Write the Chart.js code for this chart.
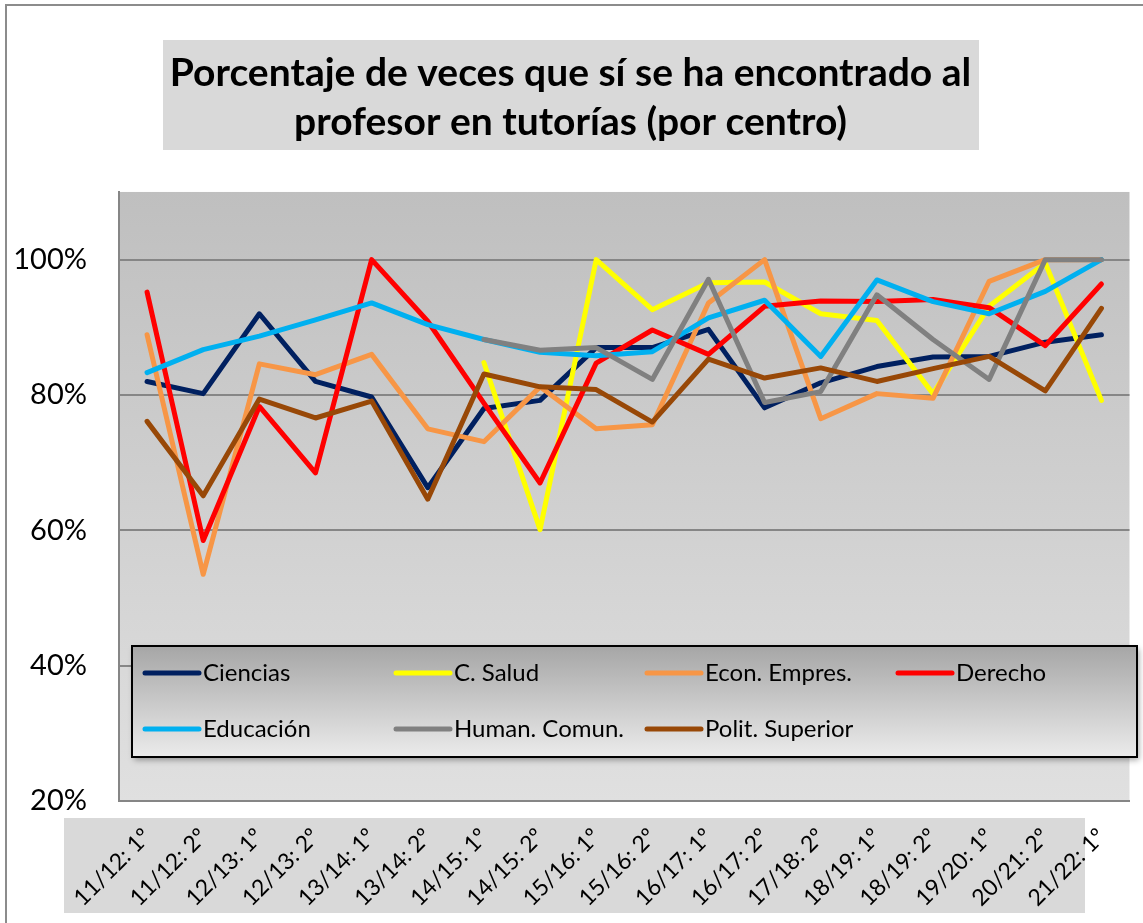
<!DOCTYPE html>
<html><head><meta charset="utf-8">
<script src="https://cdn.jsdelivr.net/npm/chart.js@4/dist/chart.umd.min.js"></script>
<style>html,body{margin:0;padding:0;background:#fff;}canvas{display:block;}</style>
</head><body>
<canvas id="c" width="1143" height="923"></canvas>
<script>
const categories = ["11/12: 1º","11/12: 2º","12/13: 1º","12/13: 2º","13/14: 1º","13/14: 2º","14/15: 1º","14/15: 2º","15/16: 1º","15/16: 2º","16/17: 1º","16/17: 2º","17/18: 2º","18/19: 1º","18/19: 2º","19/20: 1º","20/21: 2º","21/22: 1º"];
const ciencias = [82.0,80.2,92.0,82.0,79.7,66.3,78.0,79.2,87.0,87.0,89.7,78.1,81.8,84.2,85.6,85.7,87.8,88.9];
const cSalud = [null,null,null,null,null,null,84.8,60.1,100,92.6,96.6,96.7,92.0,91.0,80.2,93.1,99.5,79.2];
const econEmpres = [88.9,53.5,84.6,83.0,86.0,75.0,73.1,81.2,75.0,75.6,93.6,100,76.5,80.2,79.5,96.8,100,100];
const derecho = [95.2,58.5,78.3,68.5,100,90.9,78.8,67.0,84.7,89.6,86.0,93.1,93.9,93.8,94.1,92.9,87.3,96.4];
const educacion = [83.3,86.7,88.7,91.1,93.6,90.4,88.2,86.3,85.8,86.4,91.4,94.0,85.7,97.0,93.8,92.0,95.3,100];
const humanComun = [null,null,null,null,null,null,88.2,86.6,87.0,82.3,97.1,78.9,80.5,94.8,88.2,82.3,100,100];
const politSuperior = [76.1,65.1,79.4,76.6,79.1,64.6,83.1,81.2,80.8,76.0,85.3,82.5,84.0,82.0,83.9,85.7,80.6,92.8];
const seriesNames = ["Ciencias","C. Salud","Econ. Empres.","Derecho","Educación","Human. Comun.","Polit. Superior"];
const yTicks = [20,40,60,80,100];
const titleLines = ["Porcentaje de veces que sí se ha encontrado al","profesor en tutorías (por centro)"];

const colors = ["#002060","#FFFF00","#F79646","#FF0000","#00B0F0","#808080","#984807"];
const seriesData = [ciencias,cSalud,econEmpres,derecho,educacion,humanComun,politSuperior];

const FONT = "Lato, 'Open Sans', sans-serif";

const deco = {
  id: 'deco',
  beforeDraw(chart){
    const ctx = chart.ctx, a = chart.chartArea;
    ctx.save();
    ctx.fillStyle = '#fff';
    ctx.fillRect(0,0,chart.width,chart.height);
    ctx.strokeStyle = '#8c8c8c'; ctx.lineWidth = 2;
    ctx.beginPath(); ctx.moveTo(6, 940); ctx.lineTo(6, 5); ctx.lineTo(1160, 5); ctx.stroke();
    ctx.fillStyle = '#d9d9d9';
    ctx.fillRect(163, 40, 816, 110);
    ctx.fillRect(64, 818, 1021, 95);
    const g = ctx.createLinearGradient(0, a.top, 0, a.bottom);
    g.addColorStop(0, '#bfbfbf'); g.addColorStop(1, '#e0e0e0');
    ctx.fillStyle = g;
    ctx.fillRect(a.left, a.top, a.right - a.left, a.bottom - a.top);
    ctx.restore();
  },
  afterDatasetsDraw(chart){
    const ctx = chart.ctx;
    const bx = 132, by = 646, bw = 1005, bh = 111;
    ctx.save();
    ctx.shadowColor = 'rgba(0,0,0,0.35)'; ctx.shadowBlur = 6; ctx.shadowOffsetX = 2; ctx.shadowOffsetY = 3;
    const g = ctx.createLinearGradient(0, by, 0, by + bh);
    g.addColorStop(0, '#a6a6a6'); g.addColorStop(1, '#ebebeb');
    ctx.fillStyle = g;
    ctx.fillRect(bx, by, bw, bh);
    ctx.shadowColor = 'transparent';
    ctx.strokeStyle = '#000'; ctx.lineWidth = 2;
    ctx.strokeRect(bx, by, bw, bh);
    const colX = [145, 396, 647, 898], rowY = [673, 729];
    ctx.font = "24px " + FONT;
    ctx.textBaseline = 'middle'; ctx.textAlign = 'left';
    chart.data.datasets.forEach((ds, i) => {
      const cx = colX[i % 4], cy = rowY[Math.floor(i / 4)];
      ctx.strokeStyle = ds.borderColor; ctx.lineWidth = 5; ctx.lineCap = 'round';
      ctx.beginPath(); ctx.moveTo(cx, cy); ctx.lineTo(cx + 54, cy); ctx.stroke();
      ctx.fillStyle = '#000';
      ctx.fillText(ds.label, cx + 58, cy);
    });
    ctx.restore();
  }
};

new Chart(document.getElementById('c'), {
  type: 'line',
  data: {
    labels: categories,
    datasets: seriesNames.map((n, i) => ({
      label: n, data: seriesData[i], borderColor: colors[i], backgroundColor: colors[i],
      order: seriesNames.length - i,
      borderWidth: 5, pointRadius: 0, tension: 0, borderCapStyle: 'round', borderJoinStyle: 'round', spanGaps: false
    }))
  },
  options: {
    responsive: false, animation: false, devicePixelRatio: 1,
    layout: { padding: { left: 0, right: 2, top: 0, bottom: 0 } },
    plugins: {
      legend: { display: false },
      tooltip: { enabled: false },
      title: { display: true, text: titleLines, color: '#000',
        font: { family: FONT, size: 39, weight: 'bold', lineHeight: 1.256 },
        padding: { top: 48.5, bottom: 45.5 } }
    },
    scales: {
      x: {
        offset: true,
        grid: { display: false, drawTicks: false },
        border: { display: true, color: '#868686', width: 2 },
        ticks: { autoSkip: false, maxRotation: 45, minRotation: 45, color: '#000', padding: 22,
          font: { family: FONT, size: 23 } },
        afterFit(s){ s.height = 122; }
      },
      y: {
        min: 20, max: 110,
        grid: { color: '#868686', lineWidth: 2, drawTicks: false },
        border: { display: true, color: '#868686', width: 2 },
        ticks: { stepSize: 20, includeBounds: false, color: '#000', padding: 32,
          font: { family: FONT, size: 29 },
          callback: v => yTicks.includes(v) ? v + '%' : '' },
        afterFit(s){ s.width = 119; }
      }
    }
  },
  plugins: [deco]
});
</script>
</body></html>
